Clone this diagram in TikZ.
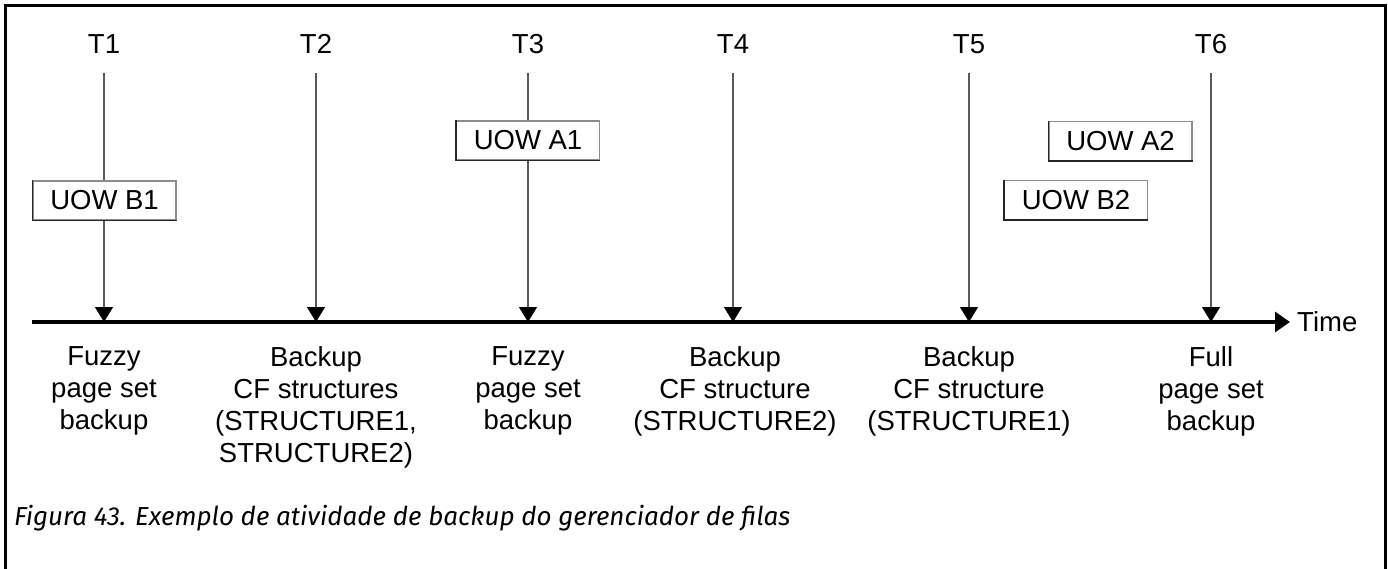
\documentclass[tikz,border=0pt]{standalone}
\usepackage{fontspec}
\setmainfont{Liberation Sans}
\newfontfamily\capfont{Fira Sans}
\usetikzlibrary{arrows.meta}
\tikzset{
  tlabel/.style={font=\fontsize{27.5}{31.5}\selectfont, inner sep=0pt},
  blabel/.style={font=\fontsize{27.5}{31.8}\selectfont, align=center, anchor=north, inner sep=0pt},
  uowbox/.style={draw=black!45, line width=1.3pt, fill=white, minimum width=143pt, minimum height=39pt, inner sep=0pt, font=\fontsize{27.5}{31.5}\selectfont},
  boxshade/.style={draw=black!85, line width=1.4pt},
  tline/.style={draw=black!65, line width=1.3pt, -{Triangle[width=18pt,length=15pt,color=black]}},
  axisline/.style={draw=black, line width=3.2pt, -{Triangle[width=20pt,length=15pt]}},
  frameline/.style={draw=black, line width=3pt}
}
\begin{document}
\begin{tikzpicture}[x=1pt,y=-1pt]
\useasboundingbox (0,0) rectangle (1388,569);
\draw[frameline] (5.5,569) -- (5.5,5.5) -- (1385,5.5) -- (1385,569);

% time labels and their anchors
\foreach \n/\x in {1/104,2/316,3/528,4/733,5/969,6/1211}{
  \node[tlabel] (t\n) at (\x,44) {T\n};
  \coordinate (s\n) at (\x,73);
  \coordinate (a\n) at (\x,322);
}

% axis
\coordinate (ax0) at (32,322);
\node[tlabel, anchor=west, inner xsep=7pt] (time) at (1290,322) {Time};

% vertical lines
\foreach \n in {1,...,6}{
  \draw[tline] (s\n) -- (a\n);
}
\draw[axisline] (ax0) -- (time.west);

% units of work
\node[uowbox] (b1) at (104.5,200.5) {UOW B1};
\node[uowbox] (a1box) at (528,140.5) {UOW A1};
\node[uowbox] (a2box) at (1120.5,141) {UOW A2};
\node[uowbox] (b2box) at (1076,200) {UOW B2};
\foreach \b in {b1,a1box,a2box,b2box}{
  \draw[boxshade] (\b.north west) -- (\b.south west) -- (\b.south east);
}

% descriptions
\node[blabel] (d1) at (104,346.5) {Fuzzy\\page set\\backup};
\node[blabel] (d2) at (316,346.5) {Backup\\CF structures\\(STRUCTURE1,\\STRUCTURE2)};
\node[blabel] (d3) at (528,346.5) {Fuzzy\\page set\\backup};
\node[blabel] (d4) at (735,346.5) {Backup\\CF structure\\(STRUCTURE2)};
\node[blabel] (d5) at (969,346.5) {Backup\\CF structure\\(STRUCTURE1)};
\node[blabel] (d6) at (1211,346.5) {Full\\page set\\backup};

% caption
\node[anchor=base west, inner sep=0pt, font=\capfont\itshape\fontsize{26}{30}\selectfont] (cap) at (14,525) {Figura 43. Exemplo de atividade de backup do gerenciador de filas};
\end{tikzpicture}
\end{document}
